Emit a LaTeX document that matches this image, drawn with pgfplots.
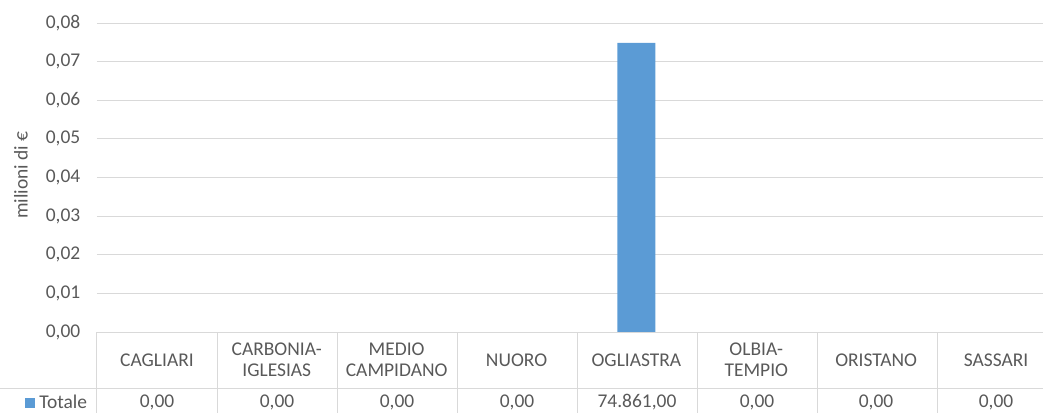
\documentclass[border=0pt]{standalone}
\usepackage{pgfplots}
\pgfplotsset{compat=1.18}
\usepackage{fontspec}
\setmainfont{Carlito}
\definecolor{txt}{HTML}{595959}
\definecolor{gridc}{HTML}{D9D9D9}
\definecolor{barc}{HTML}{5B9BD5}
\newcommand{\xf}{\fontsize{14.6}{15.5}\selectfont}
\begin{document}
\begin{tikzpicture}
\begin{axis}[
  name=ax,
  scale only axis, width=719.25pt, height=231.75pt,
  xmin=-0.5, xmax=7.5, ymin=0, ymax=0.08,
  ytick={0,0.01,...,0.08},
  scaled y ticks=false,
  ymajorgrids, grid style={gridc, line width=0.75pt},
  axis line style={draw=none},
  major tick length=0pt,
  xtick={0,...,7},
  xticklabels={CAGLIARI,{CARBONIA-\\IGLESIAS},{MEDIO\\CAMPIDANO},NUORO,OGLIASTRA,{OLBIA-\\TEMPIO},ORISTANO,SASSARI},
  xticklabel style={anchor=center, yshift=-21pt, align=center, font=\xf, text=txt},
  yticklabel style={anchor=east, xshift=-9pt, font=\xf, text=txt},
  /pgf/number format/.cd, fixed, fixed zerofill, precision=2, use comma, assume math mode=true,
  /pgfplots/.cd,
  clip=false,
]
\addplot[ybar, bar width=28.5pt, fill=barc, draw=none] coordinates {
  (0,0) (1,0) (2,0) (3,0) (4,0.074861) (5,0) (6,0) (7,0)};
\end{axis}
\begin{scope}[shift={(ax.south west)}, x=0.75pt, y=0.75pt, xshift=-72.75pt, yshift=-60pt]
\pgfresetboundingbox
\useasboundingbox (0,0) rectangle (1043,412);
\draw[gridc, line width=0.75pt] (97,80) -- (1060,80);
\draw[gridc, line width=0.75pt] (0,24) -- (1060,24);
\foreach \i in {0,...,8} {
  \draw[gridc, line width=0.75pt] (97+120*\i,80) -- (97+120*\i,-2);
}
\begin{scope}[every node/.style={font=\xf, text=txt, anchor=center}]
\node at (157,10) {0,00};
\node at (277,10) {0,00};
\node at (397,10) {0,00};
\node at (517,10) {0,00};
\node at (637,10) {74.861,00};
\node at (757,10) {0,00};
\node at (876,10) {0,00};
\node at (996,10) {0,00};
\fill[barc] (25,4) rectangle (35,14);
\node[anchor=west, inner sep=0pt] at (39,10) {Totale};
\node[rotate=90] at (21,237) {milioni di €};
\end{scope}
\end{scope}
\end{tikzpicture}
\end{document}
